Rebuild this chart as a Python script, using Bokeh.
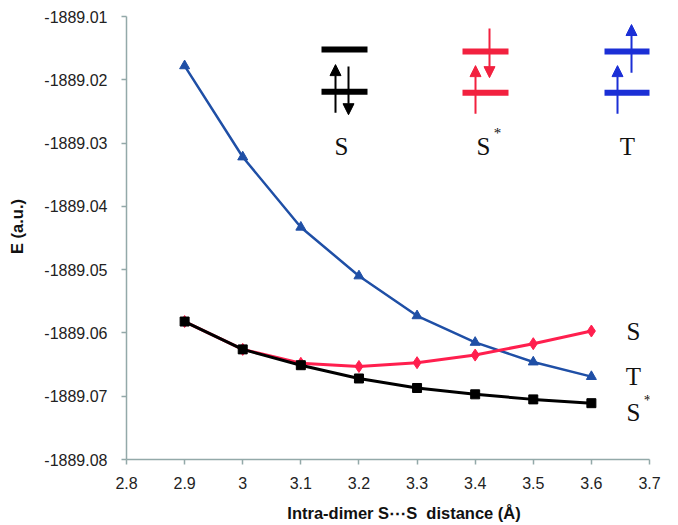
from bokeh.plotting import figure
from bokeh.models import (FixedTicker, NumeralTickFormatter, Arrow, NormalHead,
                          Label, Range1d)
from bokeh.embed import file_html
from bokeh.resources import INLINE

# ---------------- data ----------------
distance = [2.9, 3.0, 3.1, 3.2, 3.3, 3.4, 3.5, 3.6]
energy_T_blue = [-1889.0178, -1889.0322, -1889.0433, -1889.0510,
                 -1889.0573, -1889.0615, -1889.0646, -1889.0669]
energy_S_red = [-1889.0582, -1889.0626, -1889.0648, -1889.0653,
                -1889.0647, -1889.0635, -1889.0617, -1889.0597]
energy_Sstar_black = [-1889.0582, -1889.0626, -1889.0651, -1889.0672,
                      -1889.0687, -1889.0697, -1889.0705, -1889.0711]

x_ticks = [2.8, 2.9, 3.0, 3.1, 3.2, 3.3, 3.4, 3.5, 3.6, 3.7]
y_ticks = [-1889.08, -1889.07, -1889.06, -1889.05, -1889.04,
           -1889.03, -1889.02, -1889.01]

# ---------------- layout helpers (reference pixel -> data) ----------------
X0, Y0 = 2.8, -1889.01
PX_X0, PX_PER_01 = 127.0, 58.11
PX_Y0, PX_PER_001 = 18.0, 63.14


def X(px):
    return X0 + (px - PX_X0) / PX_PER_01 * 0.1


def Y(py):
    return Y0 - (py - PX_Y0) / PX_PER_001 * 0.01


axis_col = "#93A9A9"
red = "#FF1F4E"
blue = "#1F4FA6"

p = figure(frame_width=523, frame_height=443,
           min_border_left=126, min_border_right=13,
           min_border_top=16, min_border_bottom=62,
           x_range=Range1d(2.8, 3.7), y_range=Range1d(-1889.08, -1889.01),
           output_backend="svg", toolbar_location=None)
p.outline_line_color = None
p.xgrid.visible = False
p.ygrid.visible = False
p.background_fill_color = "white"
p.border_fill_color = "white"

for ax in (p.xaxis[0], p.yaxis[0]):
    ax.axis_line_color = axis_col
    ax.axis_line_width = 1.5
    ax.major_tick_line_color = axis_col
    ax.major_tick_line_width = 1.5
    ax.major_tick_out = 5
    ax.major_tick_in = 0
    ax.minor_tick_line_color = None
    ax.major_label_text_font = "Liberation Sans"
    ax.major_label_text_font_size = "16px"
    ax.major_label_text_color = "#222222"
    ax.axis_label_text_font = "Liberation Sans"
    ax.axis_label_text_font_style = "bold"
    ax.axis_label_text_font_size = "16.5px"
    ax.axis_label_text_color = "#111111"

NB = "\u00a0"
p.xaxis.ticker = FixedTicker(ticks=x_ticks)
p.xaxis.formatter = NumeralTickFormatter(format="0.[0]")
p.yaxis.ticker = FixedTicker(ticks=y_ticks)
p.yaxis.formatter = NumeralTickFormatter(format="0.00")
p.xaxis.axis_label = NB * 7 + "Intra-dimer S\u22efS" + NB + " distance (\u00c5)"
p.yaxis.axis_label = NB * 5 + "E (a.u.)"
p.xaxis.major_label_standoff = 12
p.yaxis.major_label_standoff = 14
p.xaxis.axis_label_standoff = 12
p.yaxis.axis_label_standoff = 15

# ---------------- curves ----------------
p.line(distance, energy_T_blue, line_color=blue, line_width=2.5)
p.scatter(distance, energy_T_blue, marker="triangle", size=10,
          fill_color=blue, line_color=blue)
p.line(distance, energy_S_red, line_color=red, line_width=3)
p.scatter(distance, energy_S_red, marker="diamond", size=12,
          fill_color=red, line_color=red)
p.line(distance, energy_Sstar_black, line_color="black", line_width=3)
p.scatter(distance, energy_Sstar_black, marker="square", size=9,
          fill_color="black", line_color="black")

# ---------------- curve end labels ----------------
serif = "Liberation Serif"
for txt, px, py in [("S", 634, 332), ("T", 634, 377), ("S", 634, 413)]:
    p.add_layout(Label(x=X(px), y=Y(py), text=txt, text_font=serif,
                       text_font_size="25px", text_align="center",
                       text_baseline="middle", text_color="#111111"))
p.add_layout(Label(x=X(648), y=Y(401), text="*", text_font=serif,
                   text_font_size="15px", text_align="center",
                   text_baseline="middle", text_color="#111111"))

# ---------------- orbital diagrams ----------------
leg_red = "#F2213F"
leg_blue = "#1B2FD6"
bars = [  # (x_left_px, x_right_px, y_px, colour)
    (322, 368, 51, "black"), (322, 368, 93, "black"),
    (463, 509, 53, leg_red), (463, 509, 94, leg_red),
    (605, 651, 53, leg_blue), (605, 651, 94, leg_blue),
]
for xl, xr, yy, c in bars:
    p.segment(x0=[X(xl)], y0=[Y(yy)], x1=[X(xr)], y1=[Y(yy)],
              line_color=c, line_width=6)

arrows = [  # (x_px, tail_y_px, tip_y_px, colour)
    (336, 114, 66, "black"), (349, 68, 116, "black"),
    (476, 115, 67, leg_red), (490, 30, 79, leg_red),
    (618, 115, 67, leg_blue), (632, 74, 26, leg_blue),
]
for xx, ty, hy, c in arrows:
    p.add_layout(Arrow(x_start=X(xx), y_start=Y(ty), x_end=X(xx), y_end=Y(hy),
                       line_color=c, line_width=2,
                       end=NormalHead(size=11, fill_color=c, line_color=c,
                                      line_width=1)))

for txt, px in [("S", 342), ("S", 484), ("T", 628)]:
    p.add_layout(Label(x=X(px), y=Y(148), text=txt, text_font=serif,
                       text_font_size="25px", text_align="center",
                       text_baseline="middle", text_color="#111111"))
p.add_layout(Label(x=X(498), y=Y(134), text="*", text_font=serif,
                   text_font_size="15px", text_align="center",
                   text_baseline="middle", text_color="#111111"))

open("out.html", "w").write(file_html(p, INLINE))
